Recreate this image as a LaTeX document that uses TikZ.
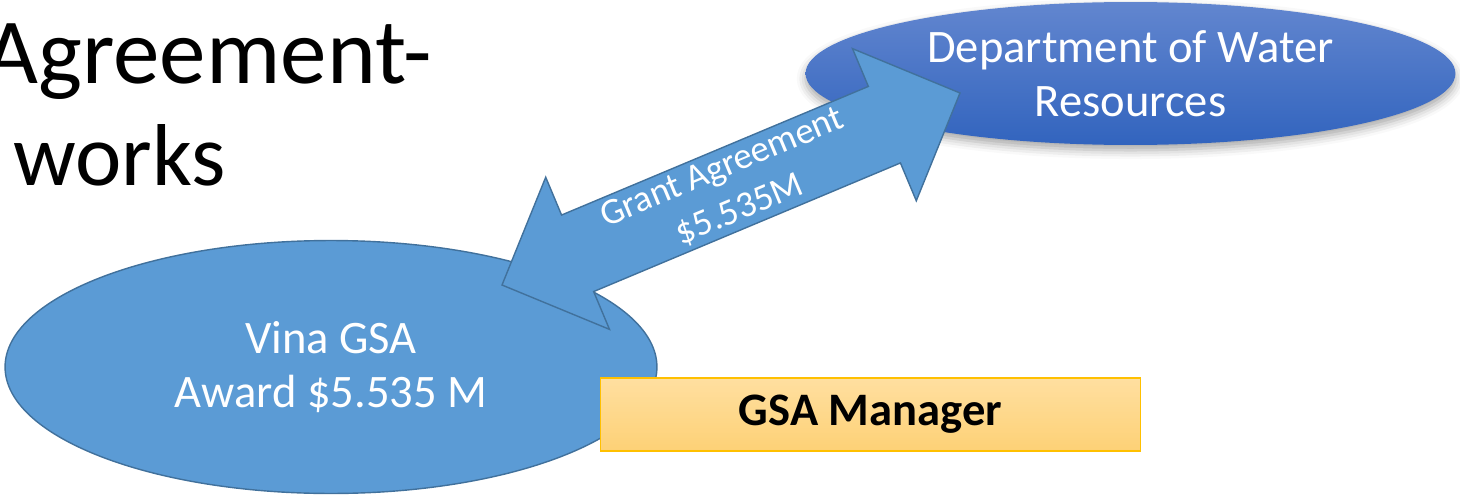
\documentclass[tikz,border=0pt]{standalone}
\usepackage{fontspec}
\setmainfont{Carlito}
\usetikzlibrary{shapes.geometric,calc,shadows.blur}

\definecolor{paleblue}{RGB}{91,155,213}
\definecolor{edgeblue}{RGB}{65,113,156}
\definecolor{deeptop}{RGB}{98,134,207}
\definecolor{deepbot}{RGB}{50,100,190}
\definecolor{goldtop}{RGB}{255,223,160}
\definecolor{goldbot}{RGB}{253,209,118}
\definecolor{goldedge}{RGB}{255,192,0}

\begin{document}
\begin{tikzpicture}[x=0.02cm, y=-0.02cm,
    titletext/.style={inner sep=0pt, font=\fontsize{50}{58}\selectfont},
    bodytext/.style={text=white, align=center, inner sep=0pt, font=\fontsize{26.5}{31}\selectfont},
    partner/.style={ellipse, line width=0.8pt, bodytext},
    blockarrow/.style={fill=paleblue, draw=edgeblue, line width=0.8pt, line join=miter},
    grantlabel/.style={text=white, align=center, inner sep=0pt, font=\fontsize{21}{26}\selectfont}]
  \useasboundingbox (0,0) rectangle (1460,497);
  \clip (0,0) rectangle (1460,497);

  \node[titletext, anchor=base east, font=\fontsize{53}{58}\selectfont] (title1) at (432, 83) {Agreement-};
  \node[titletext, anchor=base west] (title2) at (13, 185) {works};

  \node[partner, draw=edgeblue, fill=paleblue, minimum width=13.04cm, minimum height=5.06cm] (vina) at (331, 367) {Vina GSA\\Award \$5.535 M};
  \node[partner, draw=none, top color=deeptop, bottom color=deepbot,
        blur shadow={shadow xshift=0pt, shadow yshift=-3pt, shadow opacity=35, shadow blur radius=5pt},
        minimum width=13cm, minimum height=2.86cm] (dwr) at (1130.5, 73.5) {Department of Water\\Resources};

  \coordinate (lt) at (502, 285);
  \coordinate (rt) at (960, 93);
  \draw[blockarrow] (lt)
    -- ($(lt)!1.64cm!(rt)!1.65cm!90:(rt)$)
    -- ($(lt)!1.64cm!(rt)!0.83cm!90:(rt)$)
    -- ($(rt)!1.64cm!(lt)!0.83cm!-90:(lt)$)
    -- ($(rt)!1.64cm!(lt)!1.65cm!-90:(lt)$)
    -- (rt)
    -- ($(rt)!1.64cm!(lt)!1.65cm!90:(lt)$)
    -- ($(rt)!1.64cm!(lt)!0.83cm!90:(lt)$)
    -- ($(lt)!1.64cm!(rt)!0.83cm!-90:(rt)$)
    -- ($(lt)!1.64cm!(rt)!1.65cm!-90:(rt)$)
    -- cycle;
  \path (lt) -- node[sloped, grantlabel] (grant) {Grant Agreement\\\$5.535M} (rt);

  \node[draw=goldedge, line width=0.6pt, top color=goldtop, bottom color=goldbot,
        minimum width=10.82cm, minimum height=1.46cm,
        font=\fontsize{26.5}{31}\selectfont\bfseries] (mgr) at (870.5, 414.5) {GSA Manager};
\end{tikzpicture}
\end{document}
